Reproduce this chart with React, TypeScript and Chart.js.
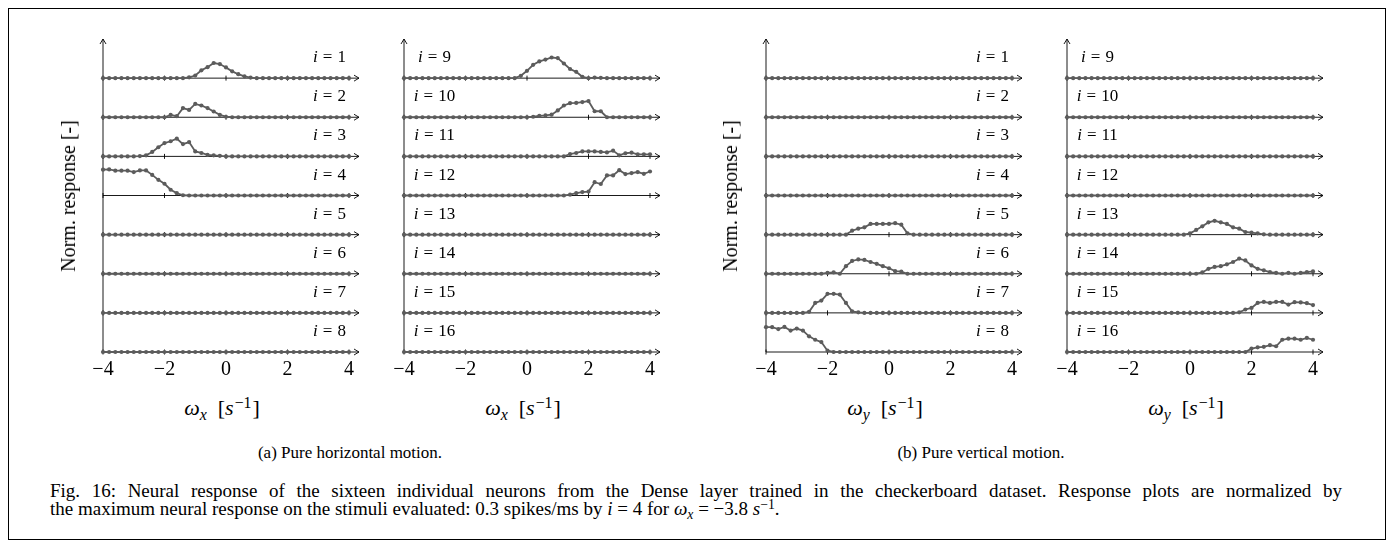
import React, { useEffect, useRef } from 'react';
import { Chart, registerables } from 'chart.js';

Chart.register(...registerables);

// ---------- data ----------
const OMEGA = [
  -4, -3.8, -3.6, -3.4, -3.2, -3, -2.8, -2.6, -2.4, -2.2,
  -2, -1.8, -1.6, -1.4, -1.2, -1, -0.8, -0.6, -0.4, -0.2,
  0, 0.2, 0.4, 0.6, 0.8, 1, 1.2, 1.4, 1.6, 1.8,
  2, 2.2, 2.4, 2.6, 2.8, 3, 3.2, 3.4, 3.6, 3.8,
  4,
];
const X_TICKS = [-4, -2, 0, 2, 4];
const X_MIN = -4;
const X_MAX = 4;
const Y_MAX = 1.5;

const FLAT = [
  0, 0, 0, 0, 0, 0, 0, 0, 0, 0,
  0, 0, 0, 0, 0, 0, 0, 0, 0, 0,
  0, 0, 0, 0, 0, 0, 0, 0, 0, 0,
  0, 0, 0, 0, 0, 0, 0, 0, 0, 0,
  0,
];

// (a) pure horizontal motion, neurons 1-8
const H1 = [
  0, 0, 0, 0, 0, 0, 0, 0, 0, 0,
  0, 0, 0, 0, 0.03, 0.1, 0.3, 0.42, 0.58, 0.54,
  0.41, 0.26, 0.15, 0.07, 0.02, 0, 0, 0, 0, 0,
  0, 0, 0, 0, 0, 0, 0, 0, 0, 0,
  0,
];
const H2 = [
  0, 0, 0, 0, 0, 0, 0, 0, 0, 0,
  0, 0.09, 0.04, 0.35, 0.28, 0.51, 0.45, 0.35, 0.22, 0.09,
  0.02, 0, 0, 0, 0, 0, 0, 0, 0, 0,
  0, 0, 0, 0, 0, 0, 0, 0, 0, 0,
  0,
];
const H3 = [
  0, 0, 0, 0, 0, 0, 0.01, 0.04, 0.17, 0.35,
  0.51, 0.58, 0.68, 0.47, 0.55, 0.19, 0.13, 0.06, 0.04, 0.02,
  0, 0, 0, 0, 0, 0, 0, 0, 0, 0,
  0, 0, 0, 0, 0, 0, 0, 0, 0, 0,
  0,
];
const H4 = [
  0.99, 1, 0.95, 0.95, 0.95, 0.9, 0.96, 0.96, 0.79, 0.6,
  0.45, 0.22, 0.09, 0.01, 0, 0, 0, 0, 0, 0,
  0, 0, 0, 0, 0, 0, 0, 0, 0, 0,
  0, 0, 0, 0, 0, 0, 0, 0, 0, 0,
  0,
];
const H5 = FLAT;
const H6 = FLAT;
const H7 = FLAT;
const H8 = FLAT;

// (a) pure horizontal motion, neurons 9-16
const H9 = [
  0, 0, 0, 0, 0, 0, 0, 0, 0, 0,
  0, 0, 0, 0, 0, 0, 0, 0, 0, 0.09,
  0.28, 0.51, 0.64, 0.71, 0.79, 0.77, 0.56, 0.35, 0.24, 0.05,
  0, 0.02, 0.01, 0, 0, 0, 0, 0, 0, 0,
  0,
];
const H10 = [
  0, 0, 0, 0, 0, 0, 0, 0, 0, 0,
  0, 0, 0, 0, 0, 0, 0, 0, 0, 0,
  0, 0.02, 0.05, 0.07, 0.1, 0.26, 0.45, 0.54, 0.55, 0.58,
  0.62, 0.23, 0.23, 0, 0, 0, 0, 0, 0, 0,
  0,
];
const H11 = [
  0, 0, 0, 0, 0, 0, 0, 0, 0, 0,
  0, 0, 0, 0, 0, 0, 0, 0, 0, 0,
  0, 0, 0, 0, 0, 0, 0, 0.09, 0.13, 0.19,
  0.19, 0.19, 0.17, 0.15, 0.22, 0.04, 0.12, 0.14, 0.08, 0.08,
  0.08,
];
const H12 = [
  0, 0, 0, 0, 0, 0, 0, 0, 0, 0,
  0, 0, 0, 0, 0, 0, 0, 0, 0, 0,
  0, 0, 0, 0, 0, 0, 0, 0.03, 0.09, 0.13,
  0.15, 0.51, 0.44, 0.77, 0.77, 0.97, 0.82, 0.86, 0.9, 0.83,
  0.92,
];
const H13 = FLAT;
const H14 = FLAT;
const H15 = FLAT;
const H16 = FLAT;

// (b) pure vertical motion, neurons 1-8
const V1 = FLAT;
const V2 = FLAT;
const V3 = FLAT;
const V4 = FLAT;
const V5 = [
  0, 0, 0, 0, 0, 0, 0, 0, 0, 0,
  0, 0, 0, 0, 0.15, 0.23, 0.28, 0.41, 0.41, 0.41,
  0.41, 0.44, 0.38, 0.05, 0, 0, 0, 0, 0, 0,
  0, 0, 0, 0, 0, 0, 0, 0, 0, 0,
  0,
];
const V6 = [
  0, 0, 0, 0, 0, 0, 0, 0, 0, 0,
  0.03, 0.05, 0, 0.29, 0.49, 0.55, 0.53, 0.45, 0.38, 0.29,
  0.21, 0.1, 0.08, 0, 0, 0, 0, 0, 0, 0,
  0, 0, 0, 0, 0, 0, 0, 0, 0, 0,
  0,
];
const V7 = [
  0, 0, 0, 0, 0, 0, 0, 0.04, 0.38, 0.47,
  0.73, 0.73, 0.7, 0.38, 0.06, 0.02, 0, 0, 0, 0,
  0, 0, 0, 0, 0, 0, 0, 0, 0, 0,
  0, 0, 0, 0, 0, 0, 0, 0, 0, 0,
  0,
];
const V8 = [
  0.95, 0.95, 0.88, 0.96, 0.82, 0.9, 0.82, 0.6, 0.47, 0.38,
  0.05, 0, 0, 0, 0, 0, 0, 0, 0, 0,
  0, 0, 0, 0, 0, 0, 0, 0, 0, 0,
  0, 0, 0, 0, 0, 0, 0, 0, 0, 0,
  0,
];

// (b) pure vertical motion, neurons 9-16
const V9 = FLAT;
const V10 = FLAT;
const V11 = FLAT;
const V12 = FLAT;
const V13 = [
  0, 0, 0, 0, 0, 0, 0, 0, 0, 0,
  0, 0, 0, 0, 0, 0, 0, 0, 0, 0,
  0.05, 0.18, 0.32, 0.47, 0.53, 0.47, 0.41, 0.28, 0.23, 0.1,
  0.08, 0.05, 0.01, 0, 0, 0, 0, 0, 0, 0,
  0,
];
const V14 = [
  0, 0, 0, 0, 0, 0, 0, 0, 0, 0,
  0, 0, 0, 0, 0, 0, 0, 0, 0, 0,
  0, 0, 0.05, 0.19, 0.26, 0.29, 0.36, 0.45, 0.58, 0.51,
  0.32, 0.19, 0.13, 0.06, 0.03, 0, 0.03, 0, 0.03, 0.06,
  0.09,
];
const V15 = [
  0, 0, 0, 0, 0, 0, 0, 0, 0, 0,
  0, 0, 0, 0, 0, 0, 0, 0, 0, 0,
  0, 0, 0, 0, 0, 0, 0, 0, 0.02, 0.13,
  0.19, 0.38, 0.42, 0.38, 0.42, 0.42, 0.32, 0.41, 0.4, 0.37,
  0.3,
];
const V16 = [
  0, 0, 0, 0, 0, 0, 0, 0, 0, 0,
  0, 0, 0, 0, 0, 0, 0, 0, 0, 0,
  0, 0, 0, 0, 0, 0, 0, 0, 0, 0,
  0.13, 0.18, 0.2, 0.26, 0.22, 0.47, 0.51, 0.51, 0.47, 0.54,
  0.47,
];

const LABELS_1_8 = ['1', '2', '3', '4', '5', '6', '7', '8'];
const LABELS_9_16 = ['9', '10', '11', '12', '13', '14', '15', '16'];

// ---------- styling / layout ----------
const SERIF = "'Liberation Serif','Times New Roman',Times,serif";
const LINE_GRAY = '#5c5c5c';
const PAD_L = 20;
const PAD_R = 20;
const CANVAS_TOP = 28;
const CANVAS_W = 294;
const CANVAS_H = 360;

function fmtTick(v: number): string {
  return v < 0 ? '\u2212' + Math.abs(v) : String(v);
}

const rowAxesPlugin = {
  id: 'rowAxes',
  beforeDatasetsDraw(chart: any) {
    const { ctx, chartArea } = chart;
    const xs = chart.scales.x;
    const x0 = xs.getPixelForValue(X_MIN);
    const x1 = xs.getPixelForValue(X_MAX);
    const tip = x1 + 10;
    const n = chart.data.datasets.length;
    ctx.save();
    ctx.strokeStyle = '#000';
    ctx.lineWidth = 0.9;
    for (let r = 0; r < n; r++) {
      const y = chart.scales['y' + r].getPixelForValue(0);
      ctx.beginPath();
      ctx.moveTo(x0, y);
      ctx.lineTo(tip, y);
      ctx.stroke();
      ctx.beginPath();
      ctx.moveTo(tip - 5, y - 3);
      ctx.lineTo(tip, y);
      ctx.lineTo(tip - 5, y + 3);
      ctx.stroke();
      for (const t of X_TICKS) {
        const tx = xs.getPixelForValue(t);
        ctx.beginPath();
        ctx.moveTo(tx, y - 2.5);
        ctx.lineTo(tx, y + 2.5);
        ctx.stroke();
      }
    }
    const yb = chart.scales['y' + (n - 1)].getPixelForValue(0);
    const yt = chartArea.top;
    ctx.beginPath();
    ctx.moveTo(x0, yb);
    ctx.lineTo(x0, yt);
    ctx.stroke();
    ctx.beginPath();
    ctx.moveTo(x0 - 3, yt + 5);
    ctx.lineTo(x0, yt);
    ctx.lineTo(x0 + 3, yt + 5);
    ctx.stroke();
    ctx.restore();
  },
  afterDatasetsDraw(chart: any, _args: any, opts: any) {
    const { ctx } = chart;
    const xs = chart.scales.x;
    const x0 = xs.getPixelForValue(X_MIN);
    const x1 = xs.getPixelForValue(X_MAX);
    const labels: string[] = opts.labels || [];
    const side: string = opts.side || 'right';
    const gap = 5;
    ctx.save();
    ctx.fillStyle = '#000';
    ctx.textBaseline = 'alphabetic';
    ctx.textAlign = 'left';
    for (let r = 0; r < labels.length; r++) {
      const y = chart.scales['y' + r].getPixelForValue(0) - 16;
      ctx.font = 'italic 17px ' + SERIF;
      const wi = ctx.measureText('i').width;
      ctx.font = '17px ' + SERIF;
      const we = ctx.measureText('=').width;
      const wn = ctx.measureText(labels[r]).width;
      const total = wi + gap + we + gap + wn;
      const cx = side === 'right' ? x1 - 19.5 : x0 + 30.5;
      let x = cx - total / 2;
      ctx.font = 'italic 17px ' + SERIF;
      ctx.fillText('i', x, y);
      x += wi + gap;
      ctx.font = '17px ' + SERIF;
      ctx.fillText('=', x, y);
      x += we + gap;
      ctx.fillText(labels[r], x, y);
    }
    ctx.restore();
  },
};

type PanelProps = {
  axisLeft: number;
  rows: number[][];
  labels: string[];
  labelSide: 'left' | 'right';
};

function Panel({ axisLeft, rows, labels, labelSide }: PanelProps) {
  const ref = useRef<HTMLCanvasElement>(null);
  useEffect(() => {
    if (!ref.current) return;
    const scales: any = {
      x: {
        type: 'linear',
        position: 'bottom',
        min: X_MIN,
        max: X_MAX,
        grid: { display: false },
        border: { display: false },
        ticks: {
          stepSize: 2,
          padding: -2,
          autoSkip: false,
          maxRotation: 0,
          color: '#000',
          font: { family: 'Liberation Serif', size: 20 },
          callback: (v: any) => fmtTick(Number(v)),
        },
        afterFit: (s: any) => {
          s.height = 30;
        },
      },
    };
    rows.forEach((_, r) => {
      scales['y' + r] = {
        type: 'linear',
        position: 'left',
        stack: 'rows',
        stackWeight: 1,
        weight: rows.length - r,
        min: 0,
        max: Y_MAX,
        display: true,
        grid: { display: false },
        border: { display: false },
        ticks: { display: false },
      };
    });
    const chart = new Chart(ref.current, {
      type: 'line',
      data: {
        datasets: rows.map((vals, r) => ({
          label: 'i = ' + labels[r],
          data: OMEGA.map((x, k) => ({ x, y: vals[k] })),
          yAxisID: 'y' + r,
          borderColor: LINE_GRAY,
          backgroundColor: LINE_GRAY,
          borderWidth: 1.8,
          pointRadius: 2.1,
          pointBorderWidth: 0,
          pointBackgroundColor: LINE_GRAY,
          tension: 0,
          clip: false as any,
        })),
      },
      options: {
        responsive: false,
        animation: false,
        events: [],
        layout: { padding: { left: PAD_L, right: PAD_R, top: 11, bottom: 6 } },
        plugins: {
          legend: { display: false },
          tooltip: { enabled: false },
          title: { display: false },
          rowAxes: { labels, side: labelSide },
        } as any,
        scales,
      },
      plugins: [rowAxesPlugin as any],
    });
    return () => chart.destroy();
  }, []);
  return (
    <canvas
      ref={ref}
      width={CANVAS_W}
      height={CANVAS_H}
      style={{
        position: 'absolute',
        left: axisLeft - PAD_L,
        top: CANVAS_TOP,
        width: CANVAS_W,
        height: CANVAS_H,
      }}
    />
  );
}

function Centered({ x, y, children, style }: any) {
  return (
    <div
      style={{
        position: 'absolute',
        left: x,
        top: y,
        transform: 'translate(-50%, -50%)',
        whiteSpace: 'nowrap',
        fontFamily: SERIF,
        color: '#000',
        lineHeight: 1,
        ...style,
      }}
    >
      {children}
    </div>
  );
}

const subStyle: React.CSSProperties = { fontSize: '0.72em', position: 'relative', top: '0.3em' };
const supStyle: React.CSSProperties = { fontSize: '0.72em', position: 'relative', top: '-0.45em' };

function OmegaLabel({ sub }: { sub: string }) {
  return (
    <span>
      <i>ω</i>
      <i style={subStyle}>{sub}</i>
      <span style={{ marginLeft: 11 }}>[</span>
      <i>s</i>
      <span style={{ ...supStyle, marginLeft: 1 }}>−1</span>
      <span style={{ marginLeft: 1 }}>]</span>
    </span>
  );
}

const AXIS_LEFTS = [95, 396, 758, 1059];
const UNIT = 254 / 8;

export default function App() {
  return (
    <div style={{ position: 'absolute', left: 0, top: 0, width: 1394, height: 548, background: '#fff' }}>
      <div
        style={{
          position: 'absolute',
          left: 8,
          top: 8,
          width: 1378,
          height: 532,
          border: '1.5px solid #000',
          boxSizing: 'border-box',
        }}
      />
      <Panel axisLeft={AXIS_LEFTS[0]} rows={[H1, H2, H3, H4, H5, H6, H7, H8]} labels={LABELS_1_8} labelSide="right" />
      <Panel axisLeft={AXIS_LEFTS[1]} rows={[H9, H10, H11, H12, H13, H14, H15, H16]} labels={LABELS_9_16} labelSide="left" />
      <Panel axisLeft={AXIS_LEFTS[2]} rows={[V1, V2, V3, V4, V5, V6, V7, V8]} labels={LABELS_1_8} labelSide="right" />
      <Panel axisLeft={AXIS_LEFTS[3]} rows={[V9, V10, V11, V12, V13, V14, V15, V16]} labels={LABELS_9_16} labelSide="left" />

      <Centered x={68} y={196} style={{ fontSize: 20, transform: 'translate(-50%, -50%) rotate(-90deg)' }}>
        Norm. response [-]
      </Centered>
      <Centered x={730} y={196} style={{ fontSize: 20, transform: 'translate(-50%, -50%) rotate(-90deg)' }}>
        Norm. response [-]
      </Centered>

      <Centered x={AXIS_LEFTS[0] + 4 * UNIT} y={408} style={{ fontSize: 22 }}>
        <OmegaLabel sub="x" />
      </Centered>
      <Centered x={AXIS_LEFTS[1] + 4 * UNIT} y={408} style={{ fontSize: 22 }}>
        <OmegaLabel sub="x" />
      </Centered>
      <Centered x={AXIS_LEFTS[2] + 4 * UNIT} y={408} style={{ fontSize: 22 }}>
        <OmegaLabel sub="y" />
      </Centered>
      <Centered x={AXIS_LEFTS[3] + 4 * UNIT} y={408} style={{ fontSize: 22 }}>
        <OmegaLabel sub="y" />
      </Centered>

      <Centered x={350} y={452} style={{ fontSize: 17 }}>
        (a) Pure horizontal motion.
      </Centered>
      <Centered x={981} y={452} style={{ fontSize: 17 }}>
        (b) Pure vertical motion.
      </Centered>

      <div
        style={{
          position: 'absolute',
          left: 50,
          top: 482,
          width: 1292,
          fontFamily: SERIF,
          fontSize: 19,
          lineHeight: '18px',
          color: '#000',
        }}
      >
        <div style={{ textAlign: 'justify', textAlignLast: 'justify', whiteSpace: 'nowrap' as any }}>
          Fig. 16: Neural response of the sixteen individual neurons from the Dense layer trained in the checkerboard
          dataset. Response plots are normalized by
        </div>
        <div style={{ whiteSpace: 'nowrap' }}>
          the maximum neural response on the stimuli evaluated: 0.3 spikes/ms by <i>i</i> = 4 for <i>ω</i>
          <i style={subStyle}>x</i> = −3.8 <i>s</i>
          <span style={supStyle}>−1</span>.
        </div>
      </div>
    </div>
  );
}
